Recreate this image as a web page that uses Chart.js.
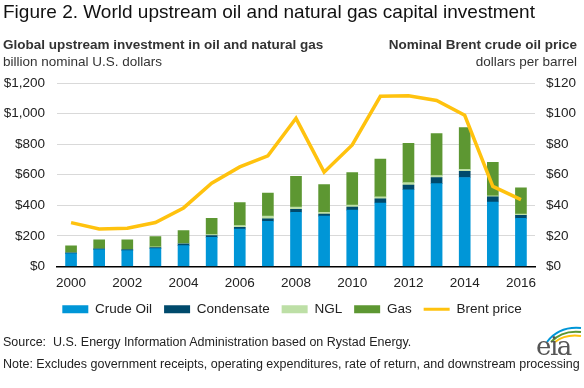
<!DOCTYPE html>
<html>
<head>
<meta charset="utf-8">
<script src="https://cdn.jsdelivr.net/npm/chart.js@4"></script>
<style>
  body { margin: 0; background: #fff; font-family: "Liberation Sans", Arial, sans-serif; color: #222; }
  #wrap { position: relative; width: 584px; height: 388px; overflow: hidden; }
  #chart { position: absolute; left: 0; top: 0; }
  .txt { position: absolute; white-space: nowrap; }
  #title { left: 3px; top: 1px; font-size: 19px; color: #111; }
  #lsub { left: 3px; top: 37px; font-size: 13.5px; font-weight: bold; color: #333; }
  #lunit { left: 3px; top: 54px; font-size: 13.5px; color: #333; }
  #rsub { right: 7px; top: 37px; font-size: 13.5px; font-weight: bold; color: #333; text-align: right; }
  #runit { right: 7px; top: 54px; font-size: 13.5px; color: #333; text-align: right; }
  #source { left: 3px; top: 335px; font-size: 12.5px; color: #222; }
  #note { left: 3px; top: 357px; font-size: 12.5px; color: #222; }
  #logo { position: absolute; left: 535px; top: 325px; width: 48px; height: 36px; }
  #logo span { position: absolute; left: 1px; top: 6px; font-family: "DejaVu Serif", "Liberation Serif", serif; font-size: 26px; color: #555; letter-spacing: -1.5px; }
</style>
</head>
<body>
<div id="wrap">
  <canvas id="chart" width="584" height="388"></canvas>
  <div class="txt" id="title">Figure 2. World upstream oil and natural gas capital investment</div>
  <div class="txt" id="lsub">Global upstream investment in oil and natural gas</div>
  <div class="txt" id="lunit">billion nominal U.S. dollars</div>
  <div class="txt" id="rsub">Nominal Brent crude oil price</div>
  <div class="txt" id="runit">dollars per barrel</div>
  <div class="txt" id="source">Source:&nbsp; U.S. Energy Information Administration based on Rystad Energy.</div>
  <div class="txt" id="note">Note: Excludes government receipts, operating expenditures, rate of return, and downstream processing</div>
  <div id="logo">
    <svg width="48" height="18" style="position:absolute;left:0;top:0">
      <path d="M12 17 Q24 1 46 3" stroke="#0096d7" stroke-width="2" fill="none"/>
      <path d="M16 17 Q27 5 46 7" stroke="#5d9732" stroke-width="2" fill="none"/>
      <path d="M20 17 Q30 9 46 11" stroke="#ffc20e" stroke-width="2" fill="none"/>
    </svg>
    <span>eia</span>
  </div>
</div>
<script>
const years = ['2000', '2001', '2002', '2003', '2004', '2005', '2006', '2007', '2008',
  '2009', '2010', '2011', '2012', '2013', '2014', '2015', '2016'];

// billion nominal U.S. dollars
const crudeOil   = [84, 110, 104, 117, 137, 190, 244, 296, 355, 329, 369, 415, 502, 542, 582, 422, 315];
const condensate = [6, 5, 6, 6, 12, 13, 12, 15, 19, 14, 20, 27, 31, 40, 40, 33, 20];
const ngl        = [1, 1, 1, 5, 3, 6, 12, 18, 15, 12, 13, 13, 16, 13, 13, 7, 7];
const gas        = [44, 59, 64, 67, 83, 106, 150, 151, 200, 180, 213, 247, 256, 274, 274, 220, 173];

// dollars per barrel
const brent = [28.7, 24.5, 25.0, 28.8, 38.3, 54.5, 65.1, 72.4, 96.9, 61.7, 79.5, 111.3, 111.6, 108.6, 98.9, 52.4, 43.7];

const leftTicks = [0, 200, 400, 600, 800, 1000, 1200];
const rightTicks = [0, 20, 40, 60, 80, 100, 120];

const FONT = '"Liberation Sans", Arial, sans-serif';

function barSet(label, data, color) {
  return {
    type: 'bar', label: label, data: data, backgroundColor: color,
    stack: 's', yAxisID: 'y', barThickness: 11, pointStyle: 'rect', order: 2
  };
}

const ctx = document.getElementById('chart').getContext('2d');
new Chart(ctx, {
  data: {
    labels: years,
    datasets: [
      barSet('Crude Oil', crudeOil, '#0096d7'),
      barSet('Condensate', condensate, '#004a6c'),
      barSet('NGL', ngl, '#bddfa6'),
      barSet('Gas', gas, '#5d9732'),
      {
        type: 'line', label: 'Brent price', data: brent, yAxisID: 'y1',
        borderColor: '#ffc20e', backgroundColor: '#ffc20e', borderWidth: 3.5,
        pointRadius: 0, tension: 0, pointStyle: 'line', order: 1
      }
    ]
  },
  options: {
    responsive: false,
    animation: false,
    layout: { padding: { top: 83, left: 0, right: 0, bottom: 62 } },
    plugins: {
      tooltip: { enabled: false },
      legend: {
        position: 'bottom',
        labels: {
          usePointStyle: true,
          pointStyleWidth: 26,
          boxHeight: 8,
          padding: 12,
          color: '#222',
          font: { family: FONT, size: 13.5 },
          sort: (a, b) => a.datasetIndex - b.datasetIndex,
          generateLabels(chart) {
            const items = Chart.defaults.plugins.legend.labels.generateLabels(chart);
            items.forEach(it => {
              if (it.pointStyle === 'line') {
                it.lineWidth = 3;
                it.strokeStyle = '#ffc20e';
              } else {
                it.lineWidth = 0;
              }
            });
            return items;
          }
        }
      }
    },
    scales: {
      x: {
        stacked: true,
        grid: { display: false },
        border: { display: true, color: '#000', width: 1.5 },
        ticks: {
          autoSkip: false, maxRotation: 0, color: '#222', padding: 1,
          font: { family: FONT, size: 13.5 },
          callback: function (v, i) { return i % 2 === 0 ? years[i] : ''; }
        },
        afterFit: s => { s.height = 24; }
      },
      y: {
        stacked: true, position: 'left', min: 0, max: 1200,
        afterBuildTicks: s => { s.ticks = leftTicks.map(v => ({ value: v })); },
        grid: { color: '#d9d9d9', lineWidth: 1, drawTicks: false },
        border: { display: false },
        ticks: {
          color: '#222', padding: 12,
          font: { family: FONT, size: 13.5 },
          callback: v => '$' + v.toLocaleString('en-US')
        },
        afterFit: s => { s.width = 57; }
      },
      y1: {
        position: 'right', min: 0, max: 120,
        afterBuildTicks: s => { s.ticks = rightTicks.map(v => ({ value: v })); },
        grid: { display: false, drawTicks: false },
        border: { display: false },
        ticks: {
          color: '#222', padding: 11,
          font: { family: FONT, size: 13.5 },
          callback: v => '$' + v
        },
        afterFit: s => { s.width = 49; }
      }
    }
  }
});
</script>
</body>
</html>
